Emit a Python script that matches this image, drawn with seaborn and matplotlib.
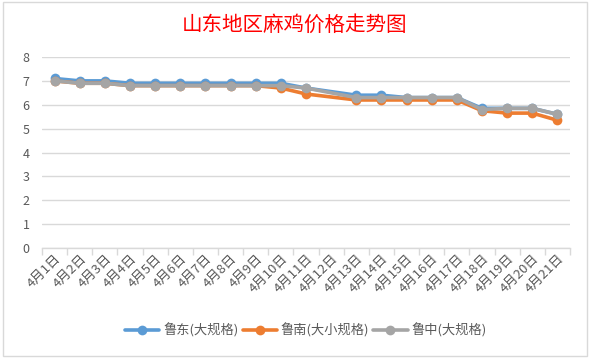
import numpy as np
import pandas as pd
import matplotlib
matplotlib.use("Agg")
import matplotlib.pyplot as plt
import seaborn as sns
from matplotlib.patches import Rectangle

categories = [f"4月{d}日" for d in range(1, 22)]
series_names = ["鲁东(大规格)", "鲁南(大小规格)", "鲁中(大规格)"]
ludong = [7.1, 7.0, 7.0, 6.9, 6.9, 6.9, 6.9, 6.9, 6.9, 6.9, 6.7, None, 6.4, 6.4, 6.3, 6.3, 6.3, 5.85, 5.85, 5.85, 5.6]
lunan = [7.0, 6.9, 6.9, 6.8, 6.8, 6.8, 6.8, 6.8, 6.8, 6.7, 6.45, None, 6.2, 6.2, 6.2, 6.2, 6.2, 5.75, 5.65, 5.65, 5.35]
luzhong = [7.0, 6.9, 6.9, 6.8, 6.8, 6.8, 6.8, 6.8, 6.8, 6.8, 6.7, None, 6.3, 6.3, 6.3, 6.3, 6.3, 5.8, 5.85, 5.85, 5.6]
yticks = [0, 1, 2, 3, 4, 5, 6, 7, 8]
colors = ["#5B9BD5", "#ED7D31", "#A5A5A5"]
title = "山东地区麻鸡价格走势图"

sns.set_theme(style="white")
plt.rcParams["font.family"] = ["Noto Sans CJK SC", "DejaVu Sans"]

rows = []
for name, vals in zip(series_names, [ludong, lunan, luzhong]):
    for i, v in enumerate(vals):
        rows.append({"idx": i, "day": categories[i], "price": v, "series": name})
df = pd.DataFrame(rows).dropna(subset=["price"])

fig = plt.figure(figsize=(5.9, 3.59), dpi=100)
ax = fig.add_axes([42 / 590, 1 - 248 / 359, (570 - 42) / 590, (248 - 57) / 359])

sns.lineplot(data=df, x="idx", y="price", hue="series", hue_order=series_names,
             palette=colors, marker="o", markersize=7, markeredgewidth=0,
             linewidth=2.6, ax=ax, legend=True, sort=True)

ax.set_xlim(-0.5, len(categories) - 0.5)
ax.set_ylim(0, 8)
ax.set_yticks(yticks)
ax.set_yticklabels([str(t) for t in yticks], color="#595959", fontsize=9)
ax.yaxis.grid(True, color="#D9D9D9", linewidth=1)
ax.xaxis.grid(False)
ax.tick_params(axis="y", length=0, pad=9)

ax.set_xticks(np.arange(len(categories)))
ax.set_xticklabels(categories, rotation=45, ha="right", va="top",
                   rotation_mode="anchor", color="#595959", fontsize=9.5)
ax.tick_params(axis="x", length=0, pad=3)
ax.set_xticks(np.arange(-0.5, len(categories) + 0.5, 1), minor=True)
ax.tick_params(axis="x", which="minor", length=5, width=1, color="#D9D9D9", direction="out", bottom=True)

for s in ["top", "right", "left"]:
    ax.spines[s].set_visible(False)
ax.spines["bottom"].set_color("#D9D9D9")
ax.spines["bottom"].set_linewidth(1)
ax.set_xlabel("")
ax.set_ylabel("")

leg = ax.legend(loc="center", bbox_to_anchor=(0.5, (1 - 330 / 359 - (1 - 248 / 359)) / ((248 - 57) / 359)),
                bbox_transform=ax.transAxes, ncol=3, frameon=False, fontsize=9.5,
                handlelength=2.6, columnspacing=0.3, handletextpad=0.3)
for t in leg.get_texts():
    t.set_color("#595959")

fig.text(0.5, 1 - 25 / 359, title, ha="center", va="center", color="#FF0000", fontsize=14.8)

fig.patches.append(Rectangle((3 / 590, 1 - 356 / 359), 584 / 590, 354 / 359,
                             transform=fig.transFigure, fill=False, edgecolor="#D9D9D9", linewidth=1))

fig.savefig("out.png", dpi=100, facecolor="white")
